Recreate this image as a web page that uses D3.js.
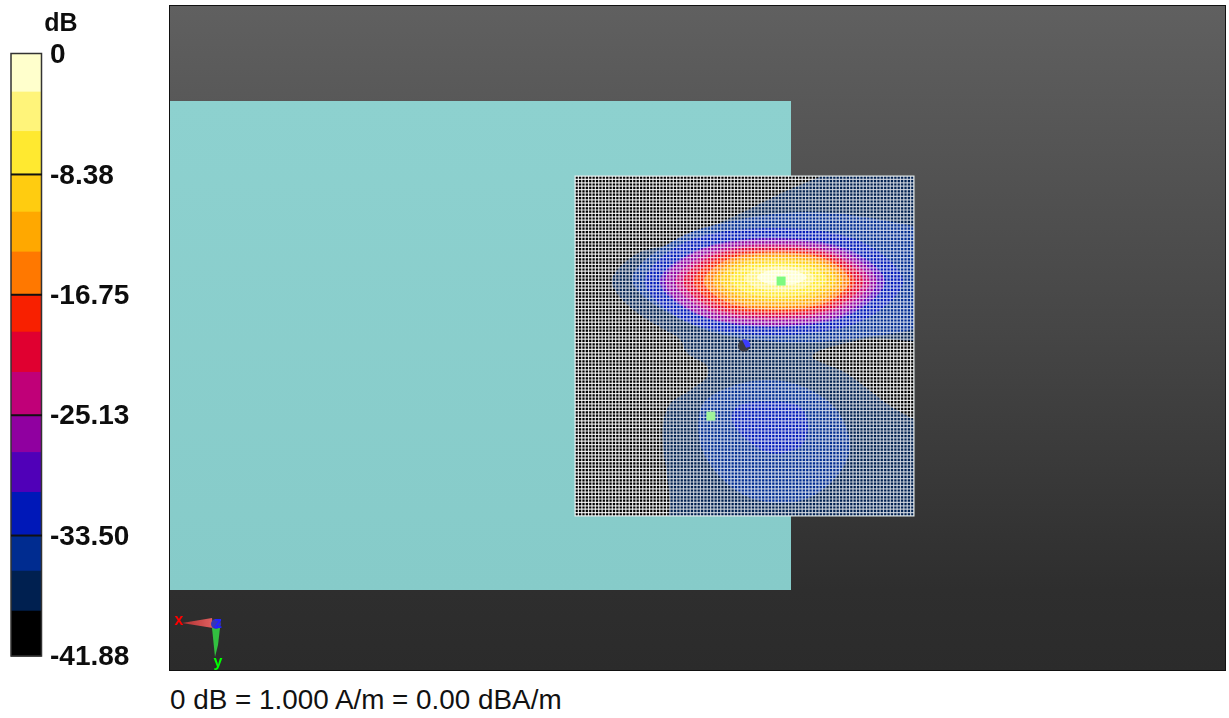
<!DOCTYPE html>
<html><head><meta charset="utf-8">
<script src="https://cdn.jsdelivr.net/npm/d3@7/dist/d3.min.js"></script>
<style>html,body{margin:0;background:#fff}svg{display:block}</style></head>
<body><div id="chart"></div>
<script>
// Scale legend
const bandColors=["#ffffcc","#fff47a","#ffe930","#ffcc10","#ffa800","#ff7800","#f82000","#e00030","#c00078","#9000a0","#5000b8","#0018b8","#002c90","#002050","#000000"];
const bandEdges=[0,-2.62,-5.36,-8.38,-10.97,-13.75,-16.75,-19.32,-22.12,-25.13,-27.69,-30.47,-33.5,-35.95,-38.73,-41.88];
const tickValues=[0,-8.38,-16.75,-25.13,-33.5,-41.88];
const tickLabels=["0","-8.38","-16.75","-25.13","-33.50","-41.88"];
const caption="0 dB = 1.000 A/m = 0.00 dBA/m";
const gridCells=100;
// Contours: band index and closed outline in grid cell coordinates
const outerContour={band:13,pts:[[73,0],[85,-4],[110,-8],[110,46],[85,48],[70,53],[80,58],[92,67],[110,80],[110,110],[29,110],[28,95],[27,87],[26,80],[26,73],[28,67],[34,63],[39,59],[39,56],[33,52],[31,48],[26,45],[18,40],[12,34],[11,30],[18,23],[28,20],[40,15],[51,10],[61,5]]};
const lowerLobes=[
 {band:12,pts:[[36.4,73.8],[37.9,81.5],[44.7,90.4],[53.6,95.3],[67.4,95.3],[77.2,88.4],[81.1,79.6],[77.2,68.8],[67.4,62],[57.5,60],[45.7,62],[37.9,66.8]]},
 {band:11,pts:[[46.3,71.8],[47.7,67.9],[57.5,66.4],[66.4,67.9],[68.7,73.8],[66.4,79.6],[57.5,81.5],[50.7,77.6]]}
];
const upperContours=[
 {band:12,pts:[[16.8,30.5],[30,18.5],[50,12.5],[68,10.6],[88,12.5],[110,19],[115,31],[105,43],[85,47.5],[60,48.8],[35,44]]},
 {band:11,pts:[[20.6,31],[31.9,19.7],[58.6,15.3],[85.3,19.7],[96.7,31],[85.3,42.3],[58.6,46.8],[31.9,42.3]]},
 {band:10,pts:[[25,31],[35.5,22],[58.5,18.2],[81.5,22],[91.4,31],[81.5,40.5],[58.5,44.4],[35.5,40.5]]},
 {band:9,pts:[[26.5,31],[35.8,22.3],[57.7,18.8],[79.6,22.3],[89,31],[79.6,40.3],[57.7,43.8],[35.8,40.3]]},
 {band:8,pts:[[29.5,31],[38.2,23.2],[58.2,20],[78.2,23.2],[87,31],[78.2,39.2],[58.2,42.4],[38.2,39.2]]},
 {band:7,pts:[[32,31],[40,23.7],[58.5,20.8],[77,23.7],[85,31],[77,38.5],[58.5,41.4],[40,38.5]]},
 {band:6,pts:[[35,31],[42.1,24.3],[58.8,21.8],[75.5,24.3],[82.6,31],[75.5,37.7],[58.8,40.3],[42.1,37.7]]},
 {band:5,pts:[[38,30.9],[44.5,24.8],[59.5,22.4],[74.5,24.8],[81,30.9],[74.5,37],[59.5,39.4],[44.5,37]]},
 {band:4,pts:[[40.7,30.8],[46.4,25.3],[59.8,23.2],[73.2,25.3],[79,30.8],[73.2,36.3],[59.8,38.5],[46.4,36.3]]},
 {band:3,pts:[[42.8,30.5],[47.9,25.9],[59.9,24.1],[71.9,25.9],[77,30.5],[71.9,35.1],[59.9,37],[47.9,35.1]]},
 {band:2,pts:[[45.7,30.4],[50,26.7],[60,25.3],[70,26.7],[74.3,30.4],[70,34.1],[60,35.6],[50,34.1]]},
 {band:1,pts:[[50,30.1],[53.1,27.5],[60.4,26.5],[67.7,27.5],[70.8,30.1],[67.7,32.7],[60.4,33.8],[53.1,32.7]]},
 {band:0,pts:[[53.7,29.8],[55.9,28.2],[61,27.6],[66.1,28.2],[68.4,29.8],[66.1,31.4],[61,32],[55.9,31.4]]}
];
const maxima=[[60.8,30.9],[40.1,70.6]];
const probe=[[49.85,49.9]];

const W=1229,H=718;
const svg=d3.select("#chart").append("svg").attr("width",W).attr("height",H);
const defs=svg.append("defs");
const bg=defs.append("linearGradient").attr("id","bg").attr("x1",0).attr("y1",0).attr("x2",0).attr("y2",1);
[[0,"#606060"],[.5,"#454545"],[.88,"#2e2e2e"],[1,"#2b2b2b"]].forEach(s=>bg.append("stop").attr("offset",s[0]).attr("stop-color",s[1]));
const teal=defs.append("linearGradient").attr("id","teal").attr("x1",0).attr("y1",0).attr("x2",0).attr("y2",1);
teal.append("stop").attr("offset",0).attr("stop-color","#8dd1cf");
teal.append("stop").attr("offset",1).attr("stop-color","#86cbc9");
const soft=defs.append("filter").attr("id","soft").attr("x","-5%").attr("y","-5%").attr("width","110%").attr("height","110%");
soft.append("feGaussianBlur").attr("stdDeviation",.35);
const red=defs.append("linearGradient").attr("id","red");
red.append("stop").attr("offset",0).attr("stop-color","#b03030");
red.append("stop").attr("offset",1).attr("stop-color","#e06060");

// viewport
svg.append("rect").attr("x",169.5).attr("y",5.5).attr("width",1056).attr("height",665).attr("fill","url(#bg)").attr("stroke","#111");
svg.append("rect").attr("x",170).attr("y",101).attr("width",621).attr("height",489).attr("fill","url(#teal)");

// scan
const x=d3.scaleLinear().domain([0,gridCells]).range([575,914]);
const y=d3.scaleLinear().domain([0,gridCells]).range([176,516]);
const sw=x(gridCells)-x(0), sh=y(gridCells)-y(0);
defs.append("clipPath").attr("id","scan").append("rect").attr("x",x(0)).attr("y",y(0)).attr("width",sw).attr("height",sh);
const scan=svg.append("g").attr("clip-path","url(#scan)");
scan.append("rect").attr("x",x(0)).attr("y",y(0)).attr("width",sw).attr("height",sh).attr("fill",bandColors[14]);
const line=d3.line().x(d=>x(d[0])).y(d=>y(d[1])).curve(d3.curveCatmullRomClosed.alpha(.5));
const fieldLayers=[outerContour,...lowerLobes,...upperContours];
scan.append("g").selectAll("path").data(fieldLayers).join("path").attr("d",d=>line(d.pts)).attr("fill",d=>bandColors[d.band]);
const ticks=d3.range(0,gridCells+1);
const grid=scan.append("g").attr("stroke","#fff").attr("stroke-opacity",.85).attr("stroke-width",1.2);
grid.selectAll("line.v").data(ticks).join("line").attr("class","v")
  .attr("x1",d=>x(d)).attr("x2",d=>x(d)).attr("y1",y(0)).attr("y2",y(100));
grid.selectAll("line.h").data(ticks).join("line").attr("class","h")
  .attr("y1",d=>y(d)).attr("y2",d=>y(d)).attr("x1",x(0)).attr("x2",x(100));
// tint of the bands over the grid lines
scan.append("g").attr("opacity",.14).selectAll("path").data(fieldLayers).join("path").attr("d",d=>line(d.pts)).attr("fill",d=>bandColors[d.band]);
svg.append("rect").attr("x",x(0)).attr("y",y(0)).attr("width",sw).attr("height",sh).attr("fill","none").attr("stroke","#e8f0f0");
// markers
svg.selectAll("rect.m").data(maxima).join("rect").attr("class","m")
  .attr("x",d=>x(d[0])-4.5).attr("y",d=>y(d[1])-4.5).attr("width",9).attr("height",9).attr("fill",(d,i)=>i?"#a0f59a":"#7dfa80");
const pr=svg.append("g").selectAll("g").data(probe).join("g").attr("transform",d=>`translate(${x(d[0])},${y(d[1])})`);
pr.append("circle").attr("r",6).attr("fill","#3a3a44");
pr.append("path").attr("d","M-2,-6 A6,6 0 0 1 6,1 L2,2 Z").attr("fill","#3c3cff");

// triad
const triad=svg.append("g").attr("filter","url(#soft)");
triad.append("path").attr("d","M182,623 L212,618 L213,628 Z").attr("fill","url(#red)");
triad.append("path").attr("d","M212,628 L220,628 L218,645 L215,657 Z").attr("fill","#33c040");
triad.append("circle").attr("cx",216).attr("cy",624).attr("r",5).attr("fill","#3535b5");
[["x",179,625,"#ff0000"],["y",218,667,"#00ff00"],["z",218,628,"#2020ff"]].forEach(t=>
 triad.append("text").attr("x",t[1]).attr("y",t[2]).attr("text-anchor","middle").attr("font-family","Liberation Sans").attr("font-size",16).attr("font-weight","bold").attr("fill",t[3]).text(t[0]));

// legend
const db=d3.scaleLinear().domain([0,-41.88]).range([54,656]);
const lg=svg.append("g");
lg.selectAll("rect").data(bandColors).join("rect").attr("x",11).attr("width",30.5)
  .attr("y",(d,i)=>db(bandEdges[i])).attr("height",(d,i)=>db(i<14?bandEdges[i+1]:-41.88)-db(bandEdges[i])+.5).attr("fill",d=>d);
lg.append("rect").attr("x",11).attr("y",53.5).attr("width",30.5).attr("height",602.5).attr("fill","none").attr("stroke","#333").attr("stroke-width",1.5);
svg.append("g").selectAll("line").data(tickValues.slice(1,5)).join("line")
  .attr("x1",11).attr("x2",42).attr("y1",d=>db(d)).attr("y2",d=>db(d)).attr("stroke","#111").attr("stroke-width",2);
const ax=svg.append("g").attr("transform","translate(42,-1.5)").attr("filter","url(#soft)")
  .call(d3.axisRight(db).tickValues(tickValues).tickSize(0).tickPadding(8).tickFormat((d,i)=>tickLabels[i]));
ax.select(".domain").remove();
ax.selectAll("text").attr("font-family","Liberation Sans").attr("font-weight","bold").attr("font-size",28).attr("fill","#111").attr("dy",".36em");
svg.append("text").attr("x",61).attr("y",31).attr("text-anchor","middle").attr("filter","url(#soft)").attr("font-family","Liberation Sans").attr("font-weight","bold").attr("font-size",25).attr("fill","#111").text("dB");
svg.append("text").attr("x",170).attr("y",709).attr("font-family","Liberation Sans").attr("font-size",27.85).attr("fill","#111").text(caption);
</script></body></html>
